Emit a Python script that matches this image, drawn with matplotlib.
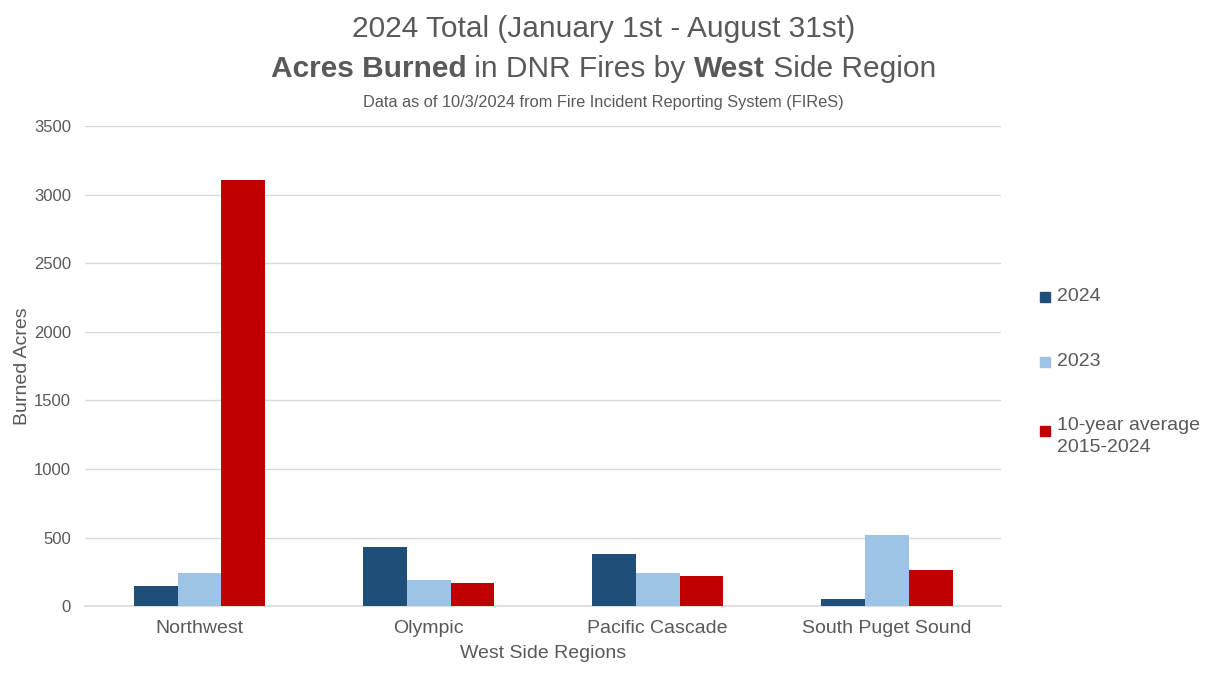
import matplotlib.pyplot as plt
import matplotlib.patches as mpatches
import numpy as np
from matplotlib import font_manager

# West side DNR regions, acres burned Jan 1 - Aug 31
regions = ["Northwest", "Olympic", "Pacific Cascade", "South Puget Sound"]
acres_2024 = [146, 428, 377, 49]
acres_2023 = [238, 190, 238, 520]
acres_10yr = [3104, 170, 216, 260]
series_names = ["2024", "2023", "10-year average\n2015-2024"]
colors = ["#1F4E79", "#9DC3E6", "#C00000"]
yticks = [0, 500, 1000, 1500, 2000, 2500, 3000, 3500]

names = {f.name for f in font_manager.fontManager.ttflist}
font = "Liberation Sans Narrow" if "Liberation Sans Narrow" in names else "Liberation Sans"
plt.rcParams['font.family'] = [font, 'DejaVu Sans']
gray = "#595959"

fig = plt.figure(figsize=(12.09, 6.81), dpi=100)
ax = fig.add_axes([0.0703, 0.110, 0.7577, 0.705])

x = np.arange(len(regions))
w = 0.192
for i, vals in enumerate([acres_2024, acres_2023, acres_10yr]):
    ax.bar(x + (i - 1) * w, vals, width=w, color=colors[i], zorder=3)

ax.set_xlim(-0.5, 3.5)
ax.set_ylim(0, 3500)
ax.set_yticks(yticks)
ax.set_xticks(x)
ax.set_xticklabels(regions, fontsize=14, color=gray)
ax.tick_params(axis='y', labelsize=12, labelcolor=gray, length=0, pad=10)
ax.tick_params(axis='x', length=0, pad=10)
ax.grid(axis='y', color="#D9D9D9", linewidth=1, zorder=0)
ax.axhline(0, color="#D9D9D9", linewidth=1.2, zorder=2, clip_on=False)
for s in ax.spines.values():
    s.set_visible(False)
ax.set_xlabel("West Side Regions", fontsize=14, color=gray, labelpad=6)
ax.set_ylabel("Burned Acres", fontsize=14, color=gray, labelpad=2)

# titles
fig.text(0.499, 0.957, "2024 Total (January 1st - August 31st)", ha='center', va='center',
         fontsize=21.5, color=gray)
parts = [("Acres Burned", 'bold'), (" in DNR Fires by ", 'normal'),
         ("West", 'bold'), (" Side Region", 'normal')]
texts = [fig.text(0, 0.898, t, fontsize=21.5, fontweight=fw, color=gray, va='center')
         for t, fw in parts]
fig.canvas.draw()
r = fig.canvas.get_renderer()
widths = [t.get_window_extent(r).width / fig.bbox.width for t in texts]
left = 0.499 - sum(widths) / 2
for t, wd in zip(texts, widths):
    t.set_x(left)
    left += wd
fig.text(0.499, 0.850, "Data as of 10/3/2024 from Fire Incident Reporting System (FIReS)",
         ha='center', va='center', fontsize=11.8, color=gray)

# legend
leg_y = [0.564, 0.469, 0.368]
for name, c, yy in zip(series_names, colors, leg_y):
    fig.patches.append(mpatches.Rectangle((0.8605, yy - 0.008), 0.0083, 0.0147,
                                          transform=fig.transFigure, color=c))
    if '\n' in name:
        fig.text(0.874, yy + 0.019, name, fontsize=14, color=gray, va='top', linespacing=1.35)
    else:
        fig.text(0.874, yy, name, fontsize=14, color=gray, va='center')

fig.savefig("out.png", dpi=100)
